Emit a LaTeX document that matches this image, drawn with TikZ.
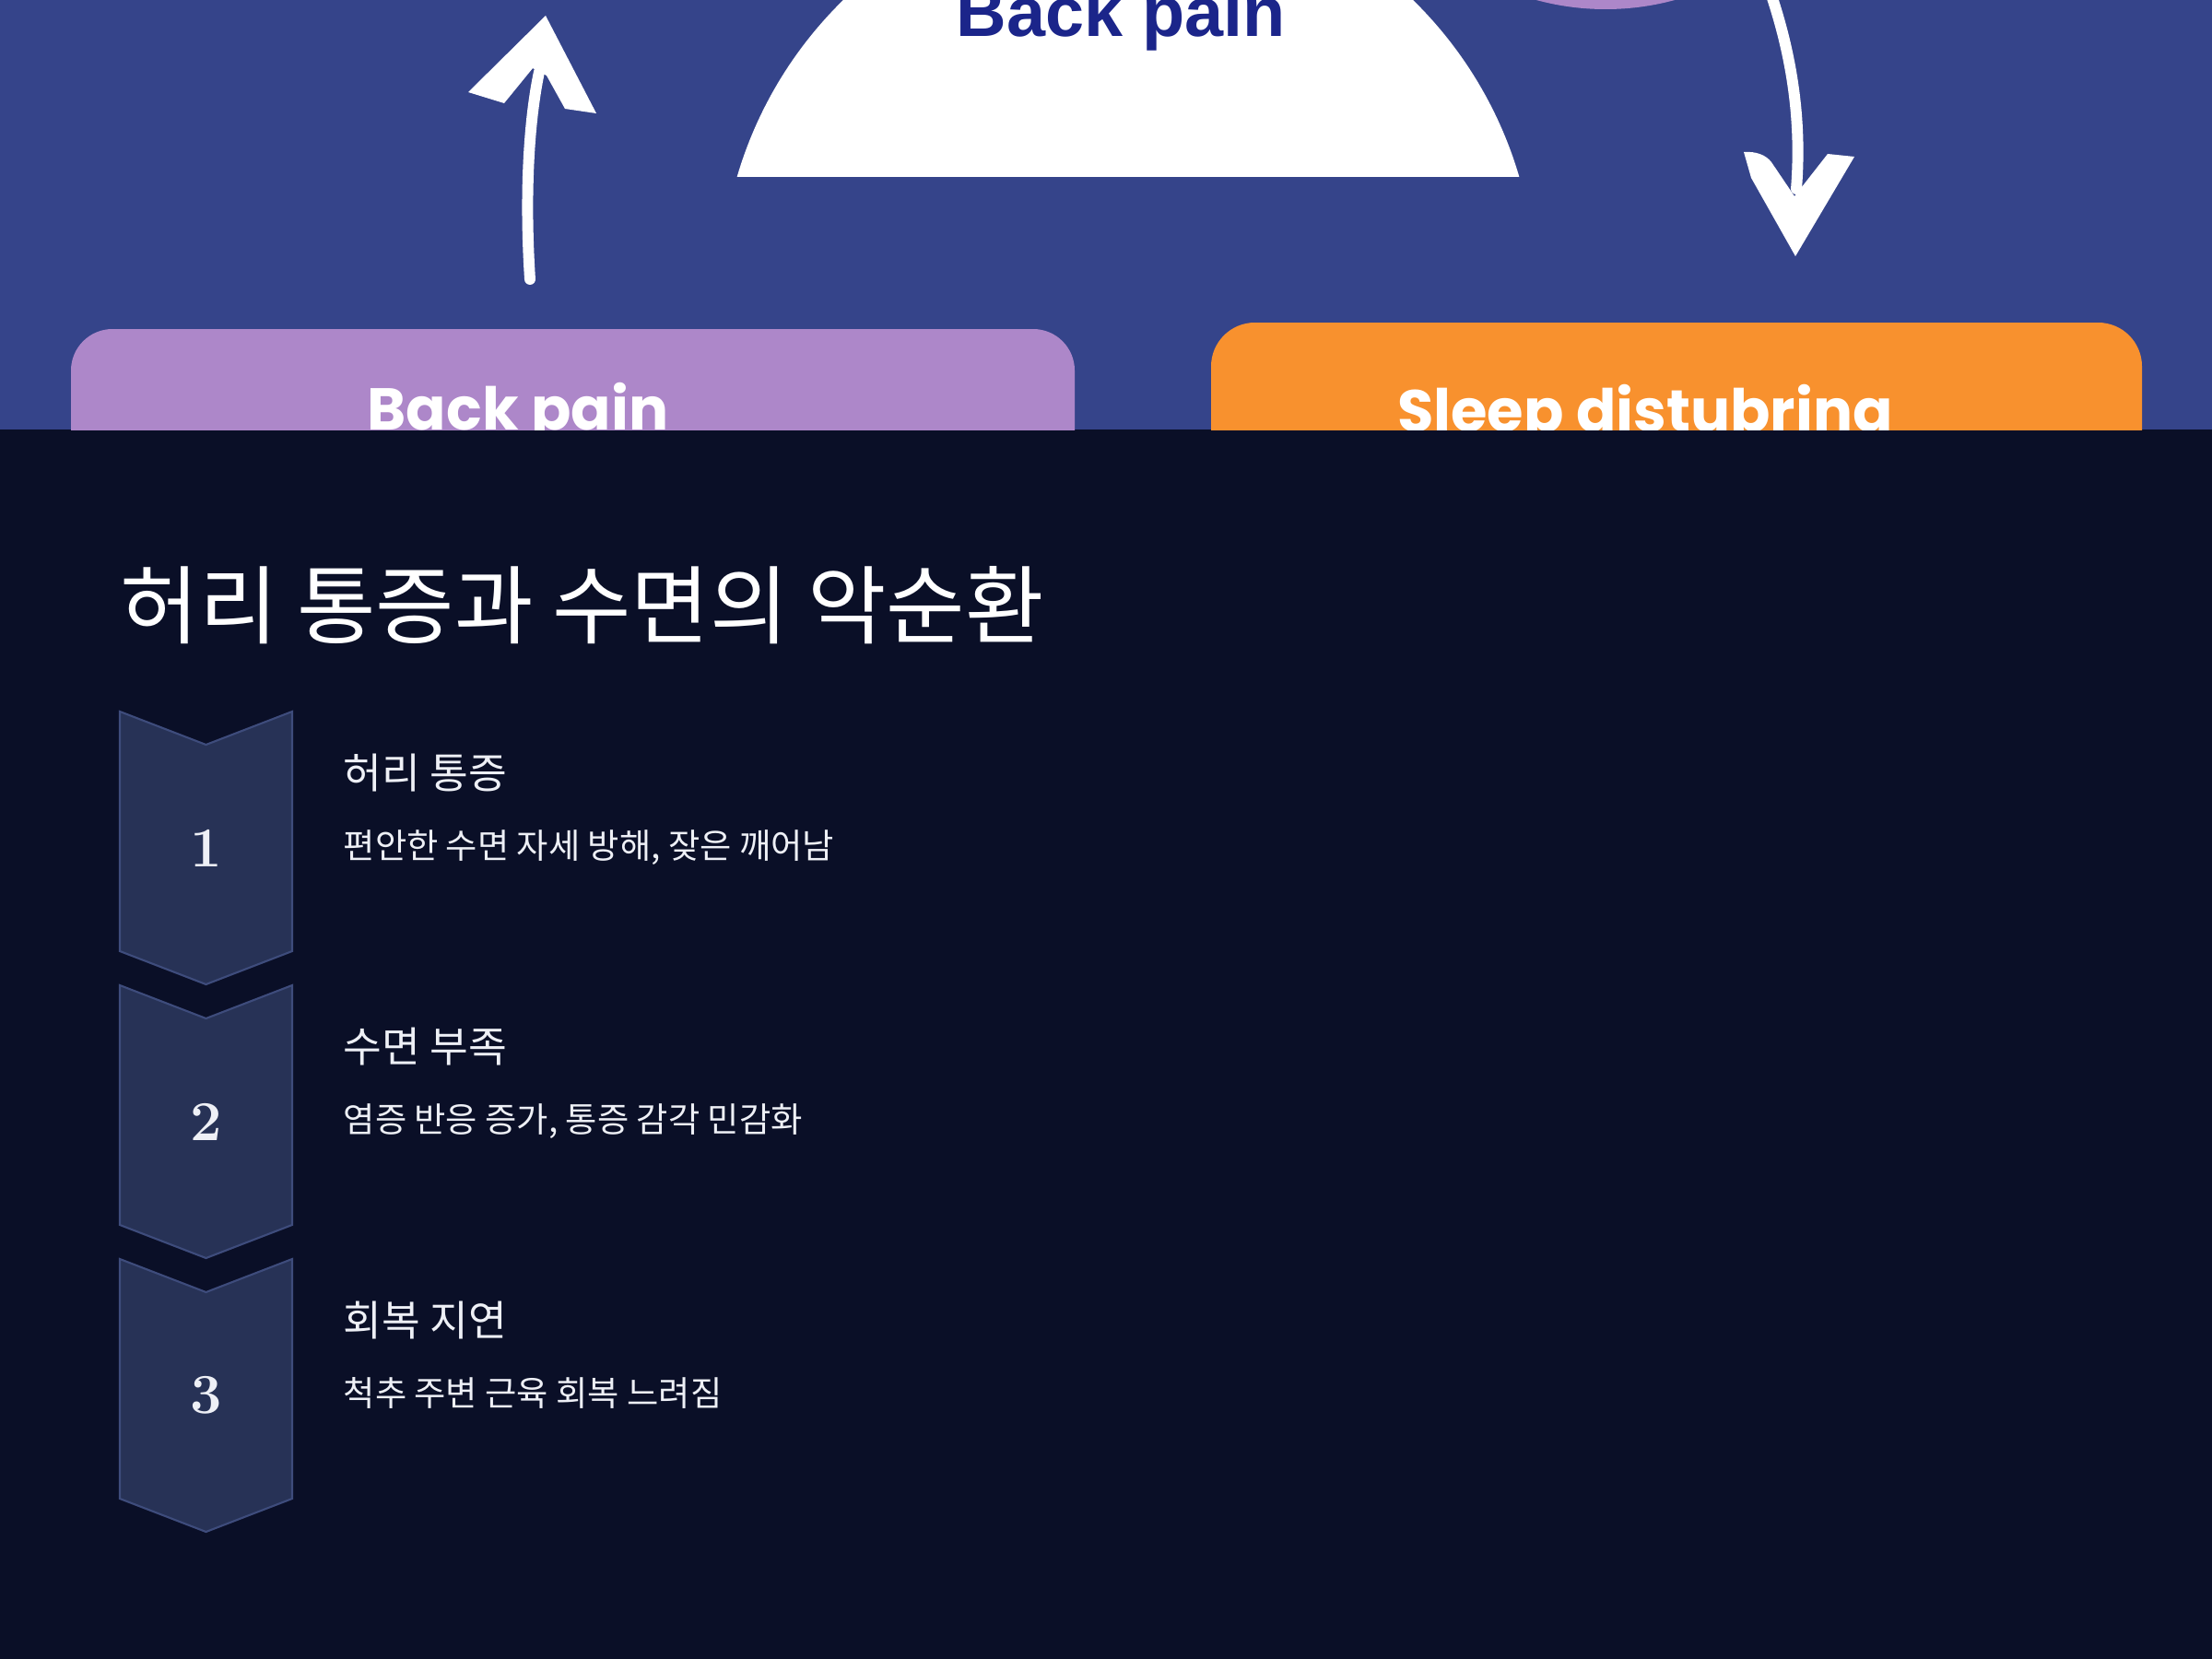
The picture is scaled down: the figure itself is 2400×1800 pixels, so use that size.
\documentclass[tikz,border=0pt]{standalone}
\usepackage{fontspec}
\newfontfamily\kr{Noto Sans CJK KR}
\newfontfamily\pop{Poppins}
\newfontfamily\lib{Liberation Sans}
\definecolor{darkbg}{HTML}{0A0F27}
\definecolor{bluebg}{HTML}{35448A}
\definecolor{purplebox}{HTML}{AD87C9}
\definecolor{orangebox}{HTML}{F8912E}
\definecolor{navytext}{HTML}{1B258A}
\definecolor{chevfill}{HTML}{273256}
\definecolor{chevline}{HTML}{3E4C7C}
\definecolor{lighttext}{HTML}{EEF0F6}
\tikzset{
  boxlabel/.style={text=white, anchor=base, inner sep=0pt, font=\pop\bfseries\fontsize{18.2}{22}\selectfont},
  shaft/.style={draw=white, line width=3.4pt, line cap=round},
  headfill/.style={fill=white},
  chevron/.style={fill=chevfill, draw=chevline, line width=0.6pt, line join=miter},
  numlabel/.style={text=lighttext, inner sep=0pt, font=\bfseries\fontsize{17.4}{20}\selectfont},
  steptitle/.style={text=lighttext, anchor=base west, inner sep=0pt, font=\kr\fontsize{12.9}{15}\selectfont},
  stepdesc/.style={text=lighttext, anchor=base west, inner sep=0pt, font=\kr\fontsize{10.6}{13}\selectfont},
}
\begin{document}
\begin{tikzpicture}[x=0.01cm,y=-0.01cm]
\useasboundingbox (0,0) rectangle (2400,1800);
\fill[darkbg] (0,0) rectangle (2400,1800);
% ---------- top picture ----------
\begin{scope}
\clip (0,0) rectangle (2400,466);
\fill[bluebg] (0,0) rectangle (2400,466);
% white dome
\begin{scope}
\clip (0,-20) rectangle (2400,192);
\fill[white] (1224,316) circle[radius=442];
\end{scope}
\node[text=navytext, anchor=base, inner sep=0pt, font=\lib\bfseries\fontsize{21.5}{25}\selectfont] (domelabel) at (1216,40) {Back pain};
% purple circle sliver
\fill[purplebox] (1742,-276) circle[radius=286];
% boxes
\fill[purplebox, rounded corners=12.8pt] (77,357) rectangle (1166,600);
\fill[orangebox, rounded corners=13.5pt] (1314,350) rectangle (2324,600);
\node[boxlabel] (backpain) at (562,466) {Back pain};
\node[boxlabel] (sleep) at (1785,468) {Sleep distubring};
% left arrow (up)
\coordinate (la0) at (575,303);
\coordinate (la1) at (585,78);
\draw[shaft] (la0) .. controls (569,210) and (574,130) .. (la1);
\fill[headfill] (592,17) -- (647,123) -- (613,118) -- (593,82) -- (578,74) -- (547,112) -- (508,100) -- cycle;
% right arrow (down)
\coordinate (ra0) at (1921,-8);
\coordinate (ra1) at (1949,205);
\draw[shaft] (ra0) .. controls (1944,60) and (1955,130) .. (ra1);
\fill[headfill] (1892,165) .. controls (1905,164) and (1916,168) .. (1922,176) -- (1947,213) -- (1983,167) -- (2012,170) -- (1948,278) -- (1900,193) -- cycle;
\end{scope}
% ---------- bottom part ----------
\node[text=white, anchor=base west, inner sep=0pt, font=\kr\fontsize{26.4}{30}\selectfont] (title) at (130,691) {허리 통증과 수면의 악순환};
% chevrons
\foreach \t/\n in {772/1,1069/2,1366/3}{
  \draw[chevron] (130,\t) -- (223.5,\t+36) -- (317,\t) -- (317,\t+260) -- (223.5,\t+296) -- (130,\t+260) -- cycle;
}
\node[numlabel] (n1) at (223.5,920) {1};
\node[numlabel] (n2) at (223.5,1217) {2};
\node[numlabel] (n3) at (223.5,1514) {3};
\node[steptitle] (h1) at (372,855) {허리 통증};
\node[stepdesc] (d1) at (372,931) {편안한 수면 자세 방해, 잦은 깨어남};
\node[steptitle] (h2) at (372,1152) {수면 부족};
\node[stepdesc] (d2) at (372,1228) {염증 반응 증가, 통증 감각 민감화};
\node[steptitle] (h3) at (372,1449) {회복 지연};
\node[stepdesc] (d3) at (372,1525) {척추 주변 근육 회복 느려짐};
\end{tikzpicture}
\end{document}
